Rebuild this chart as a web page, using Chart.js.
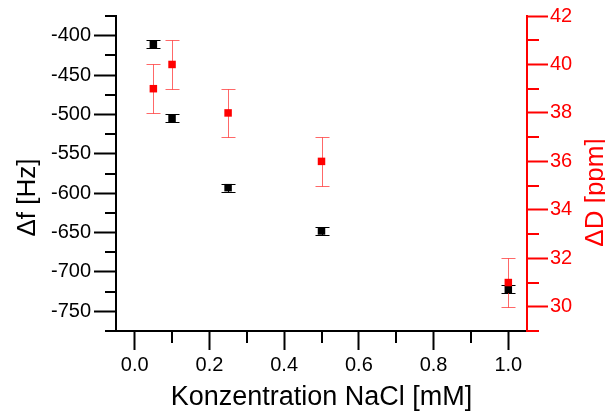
<!DOCTYPE html>
<html>
<head>
<meta charset="utf-8">
<script src="https://cdn.jsdelivr.net/npm/chart.js@4"></script>
<style>
  html, body { margin: 0; padding: 0; background: #fff; }
  canvas { display: block; }
</style>
</head>
<body>
<canvas id="myChart" width="605" height="414"></canvas>
<script>
"use strict";

/* Messwerte */
const concentrations = [0.05, 0.1, 0.25, 0.5, 1.0];
const deltaF = [-411, -505, -593, -648, -722];
const deltaFErr = [5, 5, 5, 5, 5];
const deltaD = [39, 40, 38, 36, 31];
const deltaDErr = [1, 1, 1, 1, 1];

/* Beschriftete Achsenstriche */
const xTicks = [0, 0.2, 0.4, 0.6, 0.8, 1.0];
const fTicks = [-750, -700, -650, -600, -550, -500, -450, -400];
const dTicks = [30, 32, 34, 36, 38, 40, 42];

const FONT = "'Liberation Sans', Arial, sans-serif";
const RED = "#ff0000";

/* Fehlerbalken unter den Punkten zeichnen */
const errorBars = {
  id: "errorBars",
  beforeDatasetsDraw(chart) {
    const ctx = chart.ctx;
    const xScale = chart.scales.x;
    chart.data.datasets.forEach(ds => {
      const yScale = chart.scales[ds.yAxisID];
      ctx.save();
      ctx.strokeStyle = ds.errorColor;
      ctx.lineWidth = 1;
      ds.data.forEach((p, i) => {
        const px = Math.round(xScale.getPixelForValue(p.x)) + 0.5;
        const top = Math.round(yScale.getPixelForValue(p.y + ds.errors[i])) + 0.5;
        const bot = Math.round(yScale.getPixelForValue(p.y - ds.errors[i])) + 0.5;
        ctx.beginPath();
        ctx.moveTo(px, top); ctx.lineTo(px, bot);
        ctx.moveTo(px - 7, top); ctx.lineTo(px + 7, top);
        ctx.moveTo(px - 7, bot); ctx.lineTo(px + 7, bot);
        ctx.stroke();
      });
      ctx.restore();
    });
  }
};

/* Kurze Zwischenstriche zwischen den beschrifteten Strichen */
const minorTicks = {
  id: "minorTicks",
  afterDraw(chart, args, opts) {
    const ctx = chart.ctx;
    Object.values(chart.scales).forEach(scale => {
      const len = opts.length[scale.id];
      if (!len || scale.ticks.length < 2) return;
      const step = scale.ticks[1].value - scale.ticks[0].value;
      const eps = step * 1e-6;
      ctx.save();
      ctx.strokeStyle = scale.options.border.color;
      ctx.lineWidth = 2;
      ctx.beginPath();
      for (let k = 0; k <= scale.ticks.length; k++) {
        const v = scale.ticks[0].value - step / 2 + k * step;
        if (v < scale.min - eps || v > scale.max + eps) continue;
        const pos = Math.round(scale.getPixelForValue(v));
        if (scale.position === "bottom") {
          ctx.moveTo(pos, scale.top); ctx.lineTo(pos, scale.top + len);
        } else if (scale.position === "left") {
          ctx.moveTo(scale.right, pos); ctx.lineTo(scale.right - len, pos);
        } else {
          ctx.moveTo(scale.left, pos); ctx.lineTo(scale.left + len, pos);
        }
      }
      ctx.stroke();
      ctx.restore();
    });
  }
};

/* Gedrehte Titel der beiden y-Achsen */
const yTitles = {
  id: "yTitles",
  afterDraw(chart) {
    const ctx = chart.ctx;
    const area = chart.chartArea;
    const draw = (text, x, y, color) => {
      ctx.save();
      ctx.translate(x, y);
      ctx.rotate(-Math.PI / 2);
      ctx.font = "26px " + FONT;
      ctx.fillStyle = color;
      ctx.textAlign = "center";
      ctx.textBaseline = "middle";
      ctx.fillText(text, 0, 0);
      ctx.restore();
    };
    draw("\u0394f [Hz]", chart.scales.yF.left + 28, area.top + 181.5, "#000");
    draw("\u0394D [ppm]", chart.scales.yD.left + 69, area.top + 176.5, RED);
  }
};

function makeDataset(label, ys, errs, color, errColor, axis, order) {
  return {
    label: label,
    data: concentrations.map((x, i) => ({ x: x, y: ys[i] })),
    errors: errs,
    errorColor: errColor,
    yAxisID: axis,
    order: order,
    showLine: false,
    pointStyle: "rect",
    pointRadius: 5.3,
    pointBorderWidth: 0,
    backgroundColor: color,
    borderColor: color
  };
}

function axisGrid(color, len) {
  return { drawOnChartArea: false, tickLength: len, tickWidth: 2, tickColor: color, color: color };
}

const ctx = document.getElementById("myChart");
new Chart(ctx, {
  type: "scatter",
  data: {
    datasets: [
      makeDataset("\u0394f", deltaF, deltaFErr, "#000", "#000", "yF", 1),
      makeDataset("\u0394D", deltaD, deltaDErr, RED, "rgba(255,40,40,0.7)", "yD", 0)
    ]
  },
  options: {
    responsive: false,
    animation: false,
    events: [],
    layout: { padding: { top: 16, right: 0, bottom: 0, left: 0 } },
    plugins: {
      legend: { display: false },
      tooltip: { enabled: false },
      minorTicks: { length: { x: 12, yF: 11, yD: 12 } }
    },
    scales: {
      x: {
        type: "linear",
        position: "bottom",
        min: -0.05,
        max: 1.05,
        afterBuildTicks: s => { s.ticks = xTicks.map(v => ({ value: v })); },
        afterFit: s => { s.height = 83; },
        grid: axisGrid("#000", 19),
        border: { color: "#000", width: 2 },
        ticks: {
          color: "#000",
          font: { family: FONT, size: 20 },
          padding: 3,
          maxRotation: 0,
          autoSkip: false,
          callback: v => v.toFixed(1)
        },
        title: {
          display: true,
          text: "Konzentration NaCl [mM]",
          color: "#000",
          font: { family: FONT, size: 27 },
          padding: 0
        }
      },
      yF: {
        type: "linear",
        position: "left",
        min: -775,
        max: -375,
        afterBuildTicks: s => { s.ticks = fTicks.map(v => ({ value: v })); },
        afterFit: s => { s.width = 116; },
        grid: axisGrid("#000", 22),
        border: { color: "#000", width: 2 },
        ticks: {
          color: "#000",
          font: { family: FONT, size: 20 },
          padding: 3,
          callback: v => String(v)
        }
      },
      yD: {
        type: "linear",
        position: "right",
        min: 29,
        max: 42,
        afterBuildTicks: s => { s.ticks = dTicks.map(v => ({ value: v })); },
        afterFit: s => { s.width = 78; },
        grid: axisGrid(RED, 21),
        border: { color: RED, width: 2 },
        ticks: {
          color: RED,
          font: { family: FONT, size: 20 },
          padding: 2,
          callback: v => String(v)
        }
      }
    }
  },
  plugins: [errorBars, minorTicks, yTitles]
});
</script>
</body>
</html>
